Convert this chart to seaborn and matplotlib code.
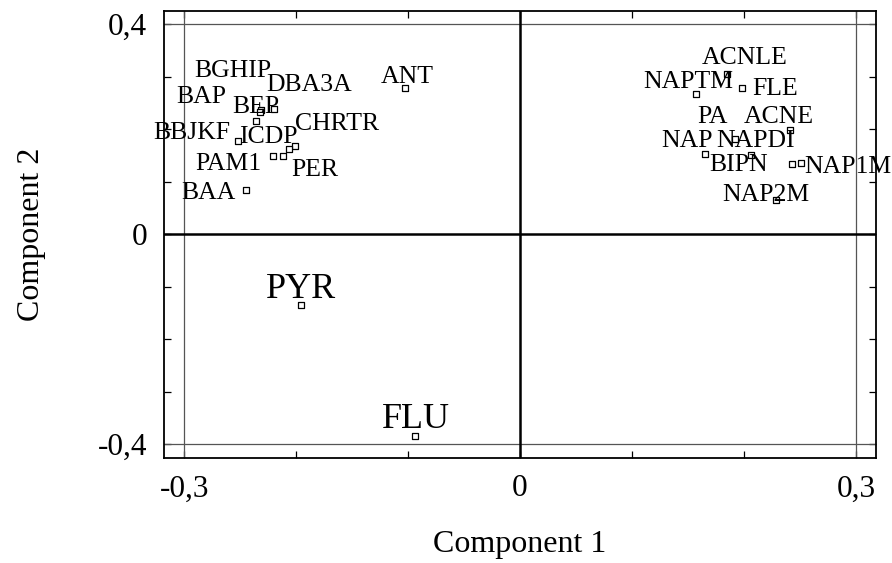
import matplotlib.pyplot as plt
import pandas as pd
import seaborn as sns
from matplotlib.ticker import FixedLocator

# PCA loadings
compounds = [
    'BGHIP', 'DBA3A', 'BAP', 'BEP', 'CHRTR', 'BBJKF', 'ICDP', 'PAM1', 'PER', 'BAA',
    'ANT', 'PYR', 'FLU',
    'ACNLE', 'NAPTM', 'FLE', 'PA', 'ACNE', 'NAP', 'NAPDI', 'BIPN', 'NAP1M', 'NAP2M',
]
component1 = [
    -0.231, -0.220, -0.236, -0.232, -0.201, -0.252, -0.206, -0.221, -0.212, -0.245,
    -0.103, -0.196, -0.094,
    0.185, 0.157, 0.198, 0.192, 0.241, 0.165, 0.206, 0.243, 0.251, 0.229,
]
component2 = [
    0.236, 0.239, 0.215, 0.233, 0.168, 0.177, 0.163, 0.149, 0.149, 0.085,
    0.279, -0.134, -0.385,
    0.305, 0.267, 0.278, 0.182, 0.198, 0.152, 0.150, 0.133, 0.135, 0.066,
]

# where each label sits relative to its point (pixels, left/baseline of the text)
label_offsets = {
    'BGHIP': (-67, 33), 'DBA3A': (-7, 18), 'BAP': (-80, 18), 'BEP': (-28, -1),
    'CHRTR': (0, 16), 'BBJKF': (-85, 2), 'ICDP': (-50, 6), 'PAM1': (-77, -14),
    'PER': (9, -20), 'BAA': (-64, -9), 'ANT': (-24, 5), 'PYR': (-35, 7),
    'FLU': (-33, 8), 'ACNLE': (-25, 10), 'NAPTM': (-53, 6), 'FLE': (11, -7),
    'PA': (-38, 16), 'ACNE': (-46, 7), 'NAP': (-43, 7), 'NAPDI': (-34, 8),
    'BIPN': (-83, -7), 'NAP1M': (3, -10), 'NAP2M': (-54, -1),
}
big_labels = {'PYR', 'FLU'}

df = pd.DataFrame({'label': compounds, 'c1': component1, 'c2': component2})

sns.set_theme(style='ticks')
plt.rcParams['font.family'] = ['Liberation Serif', 'DejaVu Serif']
plt.rcParams['text.color'] = 'black'
plt.rcParams['axes.labelcolor'] = 'black'
plt.rcParams['xtick.color'] = 'black'
plt.rcParams['ytick.color'] = 'black'

fig = plt.figure(figsize=(8.92, 5.63), dpi=100)
ax = fig.add_axes([0.1839, 0.187, 0.7982, 0.794])

# reference lines
for x in (-0.3, 0.3):
    ax.axvline(x, color='#555555', lw=0.9, zorder=1)
for y in (-0.4, 0.4):
    ax.axhline(y, color='#555555', lw=0.9, zorder=1)
ax.axvline(0, color='black', lw=1.8, zorder=1)
ax.axhline(0, color='black', lw=1.8, zorder=1)

sns.scatterplot(
    data=df, x='c1', y='c2', ax=ax,
    marker='s', s=18, facecolor='white', edgecolor='black', linewidth=0.9,
    zorder=3,
)

for _, row in df.iterrows():
    dx, dy = label_offsets[row['label']]
    ax.annotate(
        row['label'], (row['c1'], row['c2']),
        xytext=(dx, dy), textcoords='offset pixels',
        ha='left', va='baseline',
        fontsize=26 if row['label'] in big_labels else 18.5,
        color='black', annotation_clip=False, zorder=4,
    )

ax.set_xlim(-0.318, 0.318)
ax.set_ylim(-0.4255, 0.4255)
ax.xaxis.set_major_locator(FixedLocator([-0.3, 0, 0.3]))
ax.xaxis.set_minor_locator(FixedLocator([-0.2, -0.1, 0.1, 0.2]))
ax.yaxis.set_major_locator(FixedLocator([-0.4, 0, 0.4]))
ax.yaxis.set_minor_locator(FixedLocator([-0.3, -0.2, -0.1, 0.1, 0.2, 0.3]))
ax.set_xticklabels(['-0,3', '0', '0,3'])
ax.set_yticklabels(['-0,4', '0', '0,4'])
ax.tick_params(which='both', direction='in', top=True, right=True,
               length=5, width=0.9, color='black')
ax.tick_params(which='major', labelsize=22.5, pad=12)

for side in ax.spines.values():
    side.set_linewidth(1.3)
    side.set_color('black')

ax.set_xlabel('Component 1', fontsize=23, labelpad=19)
ax.set_ylabel('Component 2', fontsize=23, labelpad=37)

fig.savefig('out.png', dpi=100)
